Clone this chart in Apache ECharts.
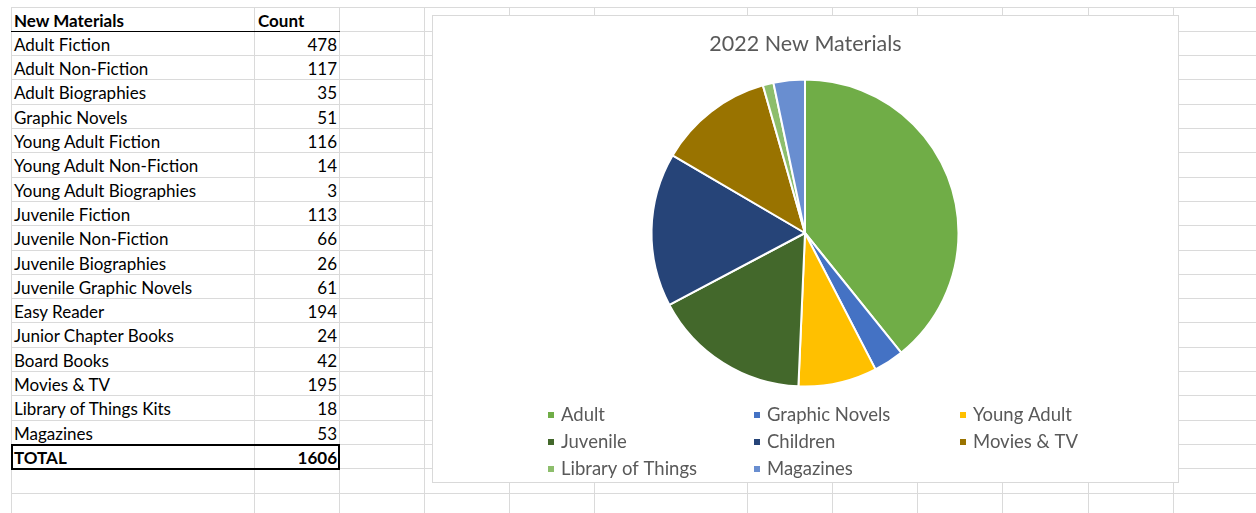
<!DOCTYPE html>
<html>
<head>
<meta charset="utf-8">
<script src="https://cdn.jsdelivr.net/npm/echarts/dist/echarts.min.js"></script>
<style>
html,body{margin:0;padding:0;background:#fff;width:1256px;height:513px;overflow:hidden;}
#sheet{position:absolute;left:0;top:0;width:1256px;height:513px;font-family:Lato,'Open Sans',sans-serif;}
.vl{position:absolute;width:1px;background:#dadada;}
.hl{position:absolute;height:1px;background:#dadada;}
.cell{position:absolute;font-size:17px;color:#000;white-space:nowrap;}
.bold{font-weight:bold;}
.num{text-align:right;}
.blk{position:absolute;background:#000;}
#chart{position:absolute;left:432px;top:15px;width:745px;height:466px;background:#fff;border:1px solid #d9d9d9;}
</style>
</head>
<body>
<div id="sheet"></div>
<div id="chart"></div>
<script>
// ---- data ----
const tableHeader = ['New Materials', 'Count'];
const materialNames = [
  'Adult Fiction', 'Adult Non-Fiction', 'Adult Biographies', 'Graphic Novels',
  'Young Adult Fiction', 'Young Adult Non-Fiction', 'Young Adult Biographies',
  'Juvenile Fiction', 'Juvenile Non-Fiction', 'Juvenile Biographies',
  'Juvenile Graphic Novels', 'Easy Reader', 'Junior Chapter Books', 'Board Books',
  'Movies & TV', 'Library of Things Kits', 'Magazines'
];
const materialCounts = [478, 117, 35, 51, 116, 14, 3, 113, 66, 26, 61, 194, 24, 42, 195, 18, 53];
const totalLabel = 'TOTAL';
const totalCount = 1606;

const chartTitle = '2022 New Materials';
const pieCategories = ['Adult', 'Graphic Novels', 'Young Adult', 'Juvenile', 'Children', 'Movies & TV', 'Library of Things', 'Magazines'];
const pieValues = [630, 51, 133, 266, 260, 195, 18, 53];
const pieColors = ['#70AD47', '#4472C4', '#FFC000', '#43682B', '#264478', '#997300', '#8DBE6C', '#698ED0'];
const legendColumns = [
  ['Adult', 'Juvenile', 'Library of Things'],
  ['Graphic Novels', 'Children', 'Magazines'],
  ['Young Adult', 'Movies & TV']
];

// ---- spreadsheet grid ----
const sheet = document.getElementById('sheet');
const colX = [11, 254, 339, 424, 509, 594, 747, 832, 917, 1002, 1088, 1173];
const rowH = 24.3, row0 = 6.5;
const rowTop = k => row0 + rowH * k;
function el(cls, style, text) {
  const d = document.createElement('div');
  d.className = cls;
  Object.assign(d.style, style);
  if (text !== undefined) d.textContent = text;
  sheet.appendChild(d);
  return d;
}
for (let k = 0; k <= 21; k++) {
  const y = Math.round(rowTop(k));
  if (y > 513) break;
  el('hl', {left: colX[0] + 'px', top: y + 'px', width: (1256 - colX[0]) + 'px'});
}
colX.forEach(x => el('vl', {left: x + 'px', top: Math.round(row0) + 'px', height: (513 - Math.round(row0)) + 'px'}));

function writeRow(k, label, value, bold) {
  const t = rowTop(k);
  const st = {top: (t + 3) + 'px', lineHeight: '22px'};
  el('cell' + (bold ? ' bold' : ''), Object.assign({left: '14px'}, st), label);
  if (k === 0) {
    el('cell bold', Object.assign({left: '258px'}, st), value);
  } else {
    el('cell num' + (bold ? ' bold' : ''), Object.assign({left: '254px', width: '83px'}, st), String(value));
  }
}
writeRow(0, tableHeader[0], tableHeader[1], true);
materialNames.forEach((n, i) => writeRow(i + 1, n, materialCounts[i], false));
const totalRow = materialNames.length + 1;
writeRow(totalRow, totalLabel, totalCount, true);

// black borders
el('blk', {left: '11px', top: Math.round(rowTop(1)) + 'px', width: '329px', height: '1px'});
const tt = Math.round(rowTop(totalRow)), tb = Math.round(rowTop(totalRow + 1));
el('blk', {left: '11px', top: tt + 'px', width: '329px', height: '2px'});
el('blk', {left: '11px', top: tb + 'px', width: '329px', height: '2px'});
el('blk', {left: '11px', top: tt + 'px', width: '2px', height: (tb - tt + 2) + 'px'});
el('blk', {left: '338px', top: tt + 'px', width: '2px', height: (tb - tt + 2) + 'px'});

// ---- chart ----
const chart = echarts.init(document.getElementById('chart'), null, {renderer: 'canvas'});
const legendLeft = [113, 319, 525];
const legends = legendColumns.map((col, i) => ({
  data: col,
  orient: 'vertical',
  left: legendLeft[i],
  top: 389,
  padding: 0,
  itemGap: 7,
  itemWidth: 8,
  itemHeight: 8,
  icon: 'rect',
  selectedMode: false,
  textStyle: {fontSize: 18.5, lineHeight: 20, color: '#595959', fontFamily: 'Lato', padding: [0, 0, 0, 1]}
}));
chart.setOption({
  animation: false,
  title: {
    text: chartTitle,
    left: 'center',
    top: 17,
    padding: 0,
    textStyle: {fontSize: 21.5, fontWeight: 'normal', color: '#595959', fontFamily: 'Lato'}
  },
  legend: legends,
  series: [{
    type: 'pie',
    center: [372, 217],
    radius: 153.5,
    startAngle: 90,
    clockwise: true,
    label: {show: false},
    labelLine: {show: false},
    emphasis: {disabled: true},
    itemStyle: {borderColor: '#ffffff', borderWidth: 2},
    data: pieCategories.map((c, i) => ({name: c, value: pieValues[i], itemStyle: {color: pieColors[i]}}))
  }]
});
</script>
</body>
</html>
